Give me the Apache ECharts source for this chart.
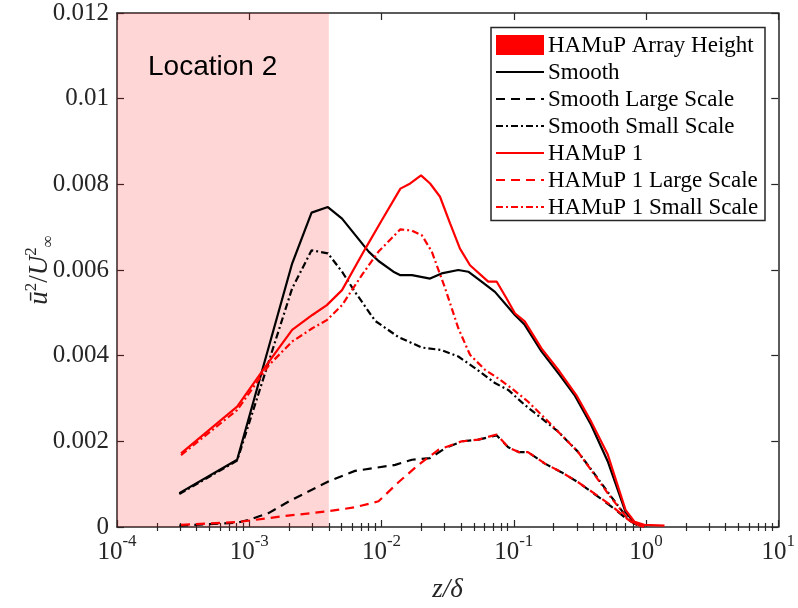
<!DOCTYPE html>
<html>
<head>
<meta charset="utf-8">
<script src="https://cdn.jsdelivr.net/npm/echarts@6/dist/echarts.min.js"></script>
<style>
html,body{margin:0;padding:0;background:#fff;}
#chart{width:798px;height:608px;}
</style>
</head>
<body>
<div id="chart"></div>
<script>
// ---- data ----
const arrayHeightZ = 0.004;              // HAMuP array height (shaded region upper edge)
const xMin = 1e-4, xMax = 10;
const yTicks = [0, 0.002, 0.004, 0.006, 0.008, 0.01, 0.012];
const xTickExps = [-4, -3, -2, -1, 0, 1];

const smoothZ = [2.96e-4, 8.1e-4, 2.11e-3, 2.96e-3, 3.93e-3, 5.03e-3, 8.0e-3, 0.0095, 0.0123, 0.0139, 0.0170, 0.0233, 0.0285, 0.0381, 0.0453, 0.0571, 0.0721, 0.102, 0.121, 0.162, 0.222, 0.288, 0.385, 0.514, 0.70, 0.82, 0.97];
const smoothU = [0.00079, 0.00157, 0.00615, 0.00734, 0.00747, 0.00720, 0.00643, 0.00621, 0.00596, 0.00588, 0.00588, 0.00580, 0.00592, 0.00600, 0.00596, 0.00573, 0.00549, 0.00495, 0.00472, 0.00410, 0.00355, 0.00308, 0.00238, 0.00153, 0.00035, 0.00010, 0.00003];

const smoothLargeZ = [2.96e-4, 8.1e-4, 1.0e-3, 1.41e-3, 2.0e-3, 2.8e-3, 4.0e-3, 6.3e-3, 8.97e-3, 0.0127, 0.0170, 0.0233, 0.0303, 0.0404, 0.054, 0.0742, 0.0908, 0.109, 0.128, 0.172, 0.229, 0.305, 0.408, 0.545, 0.727, 0.85, 0.97];
const smoothLargeU = [0.00003, 0.00010, 0.00017, 0.00033, 0.00060, 0.00083, 0.00107, 0.00131, 0.00138, 0.00145, 0.00157, 0.00161, 0.00184, 0.00200, 0.00204, 0.00214, 0.00186, 0.00175, 0.00175, 0.00148, 0.00128, 0.00105, 0.00077, 0.00048, 0.00017, 0.00005, 0.00001];

const smoothSmallZ = [2.96e-4, 8.1e-4, 2.11e-3, 2.96e-3, 3.93e-3, 5.03e-3, 6.3e-3, 8.97e-3, 0.0135, 0.0202, 0.0285, 0.0381, 0.0509, 0.0721, 0.0908, 0.121, 0.162, 0.216, 0.305, 0.408, 0.545, 0.727, 0.85, 0.97];
const smoothSmallU = [0.00077, 0.00155, 0.00557, 0.00646, 0.00639, 0.00596, 0.00549, 0.00481, 0.00443, 0.00419, 0.00413, 0.00398, 0.00371, 0.00336, 0.00320, 0.00285, 0.00254, 0.00223, 0.00176, 0.00124, 0.00071, 0.00020, 0.00006, 0.00002];

const hamupZ = [3.05e-4, 8.1e-4, 1.41e-3, 2.11e-3, 3.0e-3, 3.86e-3, 5.03e-3, 7.55e-3, 0.0100, 0.0139, 0.0165, 0.0199, 0.0233, 0.0277, 0.033, 0.0392, 0.0467, 0.0641, 0.0742, 0.0881, 0.102, 0.121, 0.162, 0.222, 0.297, 0.385, 0.514, 0.70, 0.82, 0.97, 1.38];
const hamupU = [0.00172, 0.00281, 0.00386, 0.00460, 0.00495, 0.00518, 0.00553, 0.00650, 0.00715, 0.00790, 0.00802, 0.00821, 0.00802, 0.00771, 0.00709, 0.00650, 0.00611, 0.00573, 0.00573, 0.00534, 0.00499, 0.00480, 0.00417, 0.00363, 0.00308, 0.00246, 0.00169, 0.00040, 0.00012, 0.00005, 0.00003];

const hamupLargeZ = [3.05e-4, 8.4e-4, 1.78e-3, 4.0e-3, 6.3e-3, 9.5e-3, 0.0135, 0.019, 0.0269, 0.0404, 0.054, 0.0742, 0.0908, 0.109, 0.128, 0.172, 0.229, 0.305, 0.408, 0.545, 0.727, 0.85, 0.97];
const hamupLargeU = [0.00005, 0.00012, 0.00025, 0.00037, 0.00046, 0.00060, 0.00105, 0.00145, 0.00180, 0.00200, 0.00204, 0.00216, 0.00186, 0.00175, 0.00175, 0.00148, 0.00128, 0.00105, 0.00078, 0.00050, 0.00018, 0.00005, 0.00001];

const hamupSmallZ = [3.05e-4, 8.1e-4, 1.41e-3, 2.11e-3, 3.0e-3, 3.86e-3, 5.03e-3, 7.1e-3, 0.0095, 0.0139, 0.0170, 0.0202, 0.024, 0.0303, 0.0381, 0.0467, 0.0606, 0.0762, 0.0962, 0.128, 0.172, 0.229, 0.305, 0.408, 0.545, 0.727, 0.85, 0.97];
const hamupSmallU = [0.00168, 0.00273, 0.00378, 0.00433, 0.00464, 0.00483, 0.00518, 0.00588, 0.00643, 0.00695, 0.00692, 0.00681, 0.00643, 0.00557, 0.00464, 0.00402, 0.00367, 0.00347, 0.00324, 0.00293, 0.00254, 0.00215, 0.00176, 0.00122, 0.00068, 0.00020, 0.00006, 0.00002];

const seriesNames = ['HAMuP Array Height', 'Smooth', 'Smooth Large Scale', 'Smooth Small Scale', 'HAMuP 1', 'HAMuP 1 Large Scale', 'HAMuP 1 Small Scale'];

// ---- build ----
const pair = (zs, us) => zs.map((z, i) => [z, us[i]]);
const majorX = xTickExps.map(e => Math.pow(10, e));
const minorX = [];
for (let e = -4; e < 1; e++) for (let k = 2; k <= 9; k++) minorX.push(+(k * Math.pow(10, e)).toPrecision(3));

const SERIF = '"Liberation Serif", "Times New Roman", serif';
const AX = '#262626';
const DASH = [9, 6];
const DASHDOT = [7, 3, 2, 3];
const LW = 2.2;
const lineStyles = [
  null,
  { color: '#000', type: 'solid' },
  { color: '#000', type: DASH },
  { color: '#000', type: DASHDOT },
  { color: '#ff0000', type: 'solid' },
  { color: '#ff0000', type: DASH },
  { color: '#ff0000', type: DASHDOT }
];

function lineSeries(idx, data) {
  const ls = lineStyles[idx];
  return {
    name: seriesNames[idx], type: 'line', data, symbol: 'none', showSymbol: false,
    xAxisIndex: 0, yAxisIndex: 0,
    lineStyle: { color: ls.color, width: LW, type: ls.type },
    itemStyle: { color: ls.color },
    z: 3, animation: false
  };
}

// legend drawn as graphic elements (box, icons, labels)
const LG = { left: 491, top: 27.5, width: 274, height: 193, iconX: 496, iconW: 48, textX: 548, row0: 45, rowGap: 27 };
const legendGraphic = [{
  type: 'rect', z: 20, silent: true,
  shape: { x: LG.left, y: LG.top, width: LG.width, height: LG.height },
  style: { fill: '#fff', stroke: AX, lineWidth: 1.5 }
}];
seriesNames.forEach((nm, i) => {
  const cy = LG.row0 + i * LG.rowGap;
  if (i === 0) {
    legendGraphic.push({ type: 'rect', z: 21, silent: true,
      shape: { x: LG.iconX, y: cy - 10, width: LG.iconW, height: 20 },
      style: { fill: '#ff0000' } });
  } else {
    const ls = lineStyles[i];
    legendGraphic.push({ type: 'line', z: 21, silent: true,
      shape: { x1: LG.iconX, y1: cy, x2: LG.iconX + LG.iconW, y2: cy },
      style: { stroke: ls.color, lineWidth: LW, lineDash: ls.type === 'solid' ? null : ls.type } });
  }
  legendGraphic.push({ type: 'text', z: 21, silent: true, x: LG.textX, y: cy + 1,
    style: { text: nm, font: '23px ' + SERIF, fill: '#000', verticalAlign: 'middle', align: 'left' } });
});

const xRich = {
  b: { fontFamily: SERIF, fontSize: 25, color: AX, lineHeight: 32, verticalAlign: 'bottom' },
  s: { fontFamily: SERIF, fontSize: 17, color: AX, lineHeight: 17, verticalAlign: 'top' }
};

const baseX = {
  type: 'log', logBase: 10, min: xMin, max: xMax, gridIndex: 0,
  splitLine: { show: false }, minorSplitLine: { show: false }
};
const baseY = {
  type: 'value', min: 0, max: 0.012, interval: 0.002, gridIndex: 0,
  splitLine: { show: false }
};

const chart = echarts.init(document.getElementById('chart'), null, { renderer: 'canvas' });
chart.setOption({
  animation: false,
  backgroundColor: '#fff',
  grid: { left: 117, right: 17, top: 13, bottom: 80, containLabel: false },
  xAxis: [
    Object.assign({}, baseX, {
      position: 'bottom',
      axisLine: { show: true, onZero: false, lineStyle: { color: AX, width: 1.5 } },
      axisTick: { show: true, inside: true, length: 7, lineStyle: { color: AX, width: 1.2 }, customValues: majorX },
      axisLabel: {
        show: true, margin: 6, customValues: majorX,
        formatter: v => '{b|10}{s|' + Math.round(Math.log10(v)) + '}',
        rich: xRich
      },
      name: 'z/δ', nameLocation: 'middle', nameGap: 49,
      nameTextStyle: { fontFamily: SERIF, fontSize: 27, fontStyle: 'italic', color: AX }
    }),
    Object.assign({}, baseX, {
      position: 'bottom',
      axisLine: { show: false },
      axisTick: { show: true, inside: true, length: 4, lineStyle: { color: AX, width: 1.2 }, customValues: minorX },
      axisLabel: { show: false }
    }),
    Object.assign({}, baseX, {
      position: 'top',
      axisLine: { show: true, onZero: false, lineStyle: { color: AX, width: 1.5 } },
      axisTick: { show: true, inside: true, length: 7, lineStyle: { color: AX, width: 1.2 }, customValues: majorX },
      axisLabel: { show: false }
    }),
    Object.assign({}, baseX, {
      position: 'top',
      axisLine: { show: false },
      axisTick: { show: true, inside: true, length: 4, lineStyle: { color: AX, width: 1.2 }, customValues: minorX },
      axisLabel: { show: false }
    })
  ],
  yAxis: [
    Object.assign({}, baseY, {
      position: 'left',
      axisLine: { show: true, onZero: false, lineStyle: { color: AX, width: 1.5 } },
      axisTick: { show: true, inside: true, length: 7, lineStyle: { color: AX, width: 1.2 } },
      axisLabel: {
        show: true, margin: 8, fontFamily: SERIF, fontSize: 25, color: AX,
        formatter: v => String(+v.toPrecision(3))
      },
      name: '{i|ū}{p|2}{n|/}{i|U}{p|2}{q|∞}',
      nameLocation: 'middle', nameGap: 60, nameRotate: 90, nameMoveOverlap: false,
      nameTextStyle: {
        color: AX,
        rich: {
          i: { fontFamily: SERIF, fontSize: 27, fontStyle: 'italic', color: AX, lineHeight: 34, verticalAlign: 'middle' },
          n: { fontFamily: SERIF, fontSize: 27, color: AX, lineHeight: 34, verticalAlign: 'middle' },
          p: { fontFamily: SERIF, fontSize: 17, color: AX, lineHeight: 17, verticalAlign: 'top' },
          q: { fontFamily: SERIF, fontSize: 17, color: AX, lineHeight: 17, verticalAlign: 'bottom' }
        }
      }
    }),
    Object.assign({}, baseY, {
      position: 'right',
      axisLine: { show: true, onZero: false, lineStyle: { color: AX, width: 1.5 } },
      axisTick: { show: true, inside: true, length: 7, lineStyle: { color: AX, width: 1.2 } },
      axisLabel: { show: false }
    })
  ],
  graphic: [{
    type: 'text', left: 148, top: 53, z: 10, silent: true,
    style: { text: 'Location 2', font: '28px "Liberation Sans", Arial, sans-serif', fill: '#000' }
  }].concat(legendGraphic),
  series: [
    {
      name: seriesNames[0], type: 'scatter', data: [], xAxisIndex: 0, yAxisIndex: 0,
      itemStyle: { color: '#ff0000' },
      markArea: {
        silent: true,
        itemStyle: { color: 'rgba(255,0,0,0.16)', borderWidth: 0 },
        data: [[{ coord: [xMin, 0] }, { coord: [arrayHeightZ, 0.012] }]]
      },
      z: 1
    },
    lineSeries(1, pair(smoothZ, smoothU)),
    lineSeries(2, pair(smoothLargeZ, smoothLargeU)),
    lineSeries(3, pair(smoothSmallZ, smoothSmallU)),
    lineSeries(4, pair(hamupZ, hamupU)),
    lineSeries(5, pair(hamupLargeZ, hamupLargeU)),
    lineSeries(6, pair(hamupSmallZ, hamupSmallU))
  ]
});
</script>
</body>
</html>
